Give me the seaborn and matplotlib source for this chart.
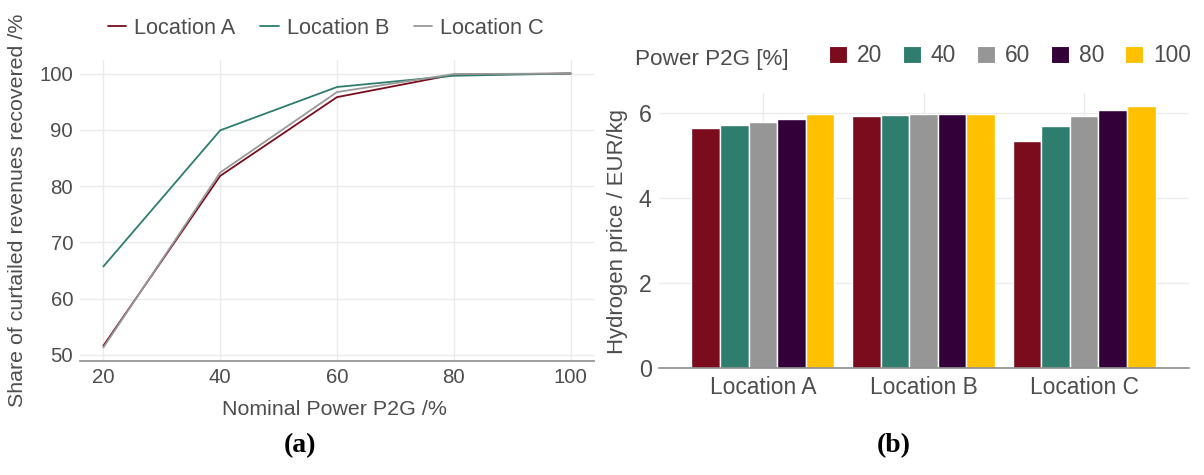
import numpy as np
import pandas as pd
import matplotlib
matplotlib.use("Agg")
import matplotlib.pyplot as plt
import seaborn as sns
from matplotlib.lines import Line2D
from matplotlib.patches import Patch

# ---------------- data ----------------
power_levels = [20, 40, 60, 80, 100]
locations = ["Location A", "Location B", "Location C"]
share_loc_a = [51.6, 81.8, 95.8, 99.8, 100.0]
share_loc_b = [65.7, 89.9, 97.6, 99.6, 100.0]
share_loc_c = [51.3, 82.4, 96.7, 99.9, 100.0]

price_loc_a = [5.65, 5.72, 5.78, 5.85, 5.98]
price_loc_b = [5.94, 5.96, 5.97, 5.98, 5.97]
price_loc_c = [5.35, 5.69, 5.93, 6.08, 6.17]

line_colors = ["#7b0c1e", "#2e7d6f", "#999999"]
bar_colors = ["#7b0c1e", "#2e7d6f", "#969696", "#33003a", "#ffc000"]

TXT = "#4d4d4d"
GRID = "#ebebeb"
AXL = "#8c8c8c"

sns.set_theme(style="white")
plt.rcParams["font.family"] = ["Liberation Sans", "DejaVu Sans"]
plt.rcParams["text.color"] = TXT
plt.rcParams["axes.labelcolor"] = TXT
plt.rcParams["xtick.color"] = TXT
plt.rcParams["ytick.color"] = TXT

df_line = pd.DataFrame({
    "power": power_levels * 3,
    "share": share_loc_a + share_loc_b + share_loc_c,
    "location": [locations[0]] * 5 + [locations[1]] * 5 + [locations[2]] * 5,
})
df_bar = pd.DataFrame({
    "location": [l for l in locations for _ in power_levels],
    "power": [str(p) for p in power_levels] * 3,
    "price": price_loc_a + price_loc_b + price_loc_c,
})

W, H = 1204, 475
fig = plt.figure(figsize=(W / 100, H / 100), dpi=100)

def rect(x0, y0, x1, y1):
    return [x0 / W, 1 - y1 / H, (x1 - x0) / W, (y1 - y0) / H]

# ---------------- left panel ----------------
ax1 = fig.add_axes(rect(80, 60, 594, 361))
sns.lineplot(data=df_line, x="power", y="share", hue="location",
             palette=line_colors, linewidth=1.3, ax=ax1, legend=False)
ax1.set_xlim(16, 104)
ax1.set_ylim(48.9, 102.4)
ax1.set_xticks(power_levels)
ax1.set_yticks([50, 60, 70, 80, 90, 100])
ax1.grid(True, color=GRID, linewidth=1.0)
ax1.set_axisbelow(True)
for s in ["top", "right", "left"]:
    ax1.spines[s].set_visible(False)
ax1.spines["bottom"].set_color(AXL)
ax1.spines["bottom"].set_linewidth(1.2)
ax1.tick_params(axis="both", length=0, labelsize=14.7, pad=5)
ax1.set_xlabel("Nominal Power P2G /%", fontsize=15.4)
ax1.set_ylabel("Share of curtailed revenues recovered /%", fontsize=15.4)
ax1.xaxis.set_label_coords((334 - 80) / 514, (361 - 400) / 301)
ax1.yaxis.set_label_coords((27 - 80) / 514, (361 - 210) / 301)

handles1 = [Line2D([0], [0], color=c, linewidth=1.3) for c in line_colors]
fig.legend(handles1, locations, loc="center left",
           bbox_to_anchor=(108 / W, 1 - 28 / H), ncol=3, frameon=False,
           fontsize=15.7, handlelength=0.83, handletextpad=0.37,
           columnspacing=1.15, borderpad=0, borderaxespad=0)

# ---------------- right panel ----------------
ax2 = fig.add_axes(rect(658.5, 92.7, 1188.6, 367.7))
sns.barplot(data=df_bar, x="location", y="price", hue="power",
            palette=bar_colors, saturation=1, width=0.89, edgecolor="white",
            linewidth=1.0, ax=ax2, legend=False)
ax2.set_xlim(-0.65, 2.65)
ax2.set_ylim(0, 6.48)
ax2.set_yticks([0, 2, 4, 6])
ax2.grid(True, color=GRID, linewidth=1.0)
ax2.set_axisbelow(True)
for s in ["top", "right", "left"]:
    ax2.spines[s].set_visible(False)
ax2.spines["bottom"].set_color(AXL)
ax2.spines["bottom"].set_linewidth(1.2)
ax2.tick_params(axis="y", length=0, labelsize=16.7, pad=5)
ax2.tick_params(axis="x", length=4, color=AXL, labelsize=16.4, pad=2)
ax2.set_xlabel("")
ax2.set_ylabel("Hydrogen price / EUR/kg", fontsize=15.9)
ax2.yaxis.set_label_coords((628 - 658.5) / 530.1, (367.7 - 231.5) / 275)

fig.text(635 / W, 1 - 59 / H, "Power P2G [%]", fontsize=16.2, ha="left", va="center")
handles2 = [Patch(facecolor=c, edgecolor="white", linewidth=0.8) for c in bar_colors]
fig.legend(handles2, [str(p) for p in power_levels], loc="center left",
           bbox_to_anchor=(829 / W, 1 - 56 / H), ncol=5, frameon=False,
           fontsize=16.4, handlelength=0.8, handleheight=0.8,
           handletextpad=0.42, columnspacing=0.92, borderpad=0, borderaxespad=0)

# ---------------- captions ----------------
for xc, letter in [(300, "a"), (893.5, "b")]:
    fig.text(xc / W, 1 - 446 / H, "(" + letter + ")", fontsize=20,
             family=["Liberation Serif", "DejaVu Serif"], color="black",
             ha="center", va="center", weight="bold")

fig.savefig("out.png", dpi=100, facecolor="white")
